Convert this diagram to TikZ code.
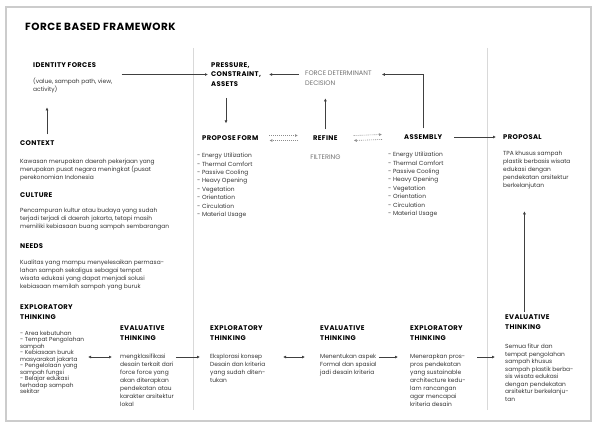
\documentclass[tikz,border=0pt]{standalone}
\usepackage{fontspec}
\setmainfont{Poppins}
\newfontfamily\headfont[LetterSpace=5]{Poppins}
\usetikzlibrary{arrows.meta}
\begin{document}
\begin{tikzpicture}[x=1pt,y=-1pt,
    head/.style={font=\headfont\fontsize{6.8}{9.8}\selectfont\bfseries,align=left,inner sep=0pt,anchor=west},
    body/.style={font=\fontsize{5.9}{8}\selectfont,align=left,inner sep=0pt,anchor=north west,text=black!80},
    tight/.style={body,font=\fontsize{5.8}{6.5}\selectfont},
    items/.style={body,font=\fontsize{5.9}{8.4}\selectfont},
    lite/.style={font=\fontsize{6.6}{9.5}\selectfont,align=left,inner sep=0pt,text=black!55},
    link/.style={draw=black!75,line width=0.6pt,-{Latex[length=3pt,width=3pt]}},
    dlink/.style={link,draw=black!45,dash pattern=on 1pt off 1pt},
    divider/.style={draw=black!15,line width=1pt}]
  \useasboundingbox (0,0) rectangle (596,428);
  \draw[black!20,line width=1.8pt] (6,7) rectangle (591,421);
  \node[anchor=west,inner sep=0pt,font=\headfont\fontsize{10.4}{12}\selectfont\bfseries] (title) at (25,27) {FORCE BASED FRAMEWORK};
  \draw[divider] (193,48) -- (193,410);
  \draw[divider] (487,48) -- (487,410);
  % left column
  \node[head] (idf) at (33,65) {IDENTITY FORCES};
  \node[body] (idft) at (33,78) {(value, sampah path, view,\\activity)};
  \node[head] (ctx) at (20,143) {CONTEXT};
  \node[body] (ctxt) at (20,159) {Kawasan merupakan daerah pekerjaan yang\\merupakan pusat negara meningkat (pusat\\perekonomian Indonesia};
  \node[head] (cul) at (20,195) {CULTURE};
  \node[body] (cult) at (20,208) {Pencampuran kultur atau budaya yang sudah\\terjadi terjadi di daerah jakarta, tetapi masih\\memiliki kebiasaan buang sampah sembarangan};
  \node[head] (nee) at (20,246) {NEEDS};
  \node[body] (neet) at (20,260) {Kualitas yang mampu menyelesaikan permasa-\\lahan sampah sekaligus sebagai tempat\\wisata edukasi yang dapat menjadi solusi\\kebiasaan memilah sampah yang buruk};
  \node[head] (ex1) at (20,312) {EXPLORATORY\\THINKING};
  \node[tight] (ex1t) at (20,331) {- Area kebutuhan\\- Tempat Pengolahan\\sampah\\- Kebiasaan buruk\\masyarakat jakarta\\- Pengelolaan yang\\sampah fungsi\\- Belajar edukasi\\terhadap sampah\\sekitar};
  \node[head] (ev1) at (120,333) {EVALUATIVE\\THINKING};
  \node[body] (ev1t) at (120,354) {mengklasifikasi\\desain terkait dari\\force force yang\\akan diterapkan\\pendekatan atau\\karakter arsitektur\\lokal};
  % middle column
  \node[head] (pca) at (211,74.5) {PRESSURE,\\CONSTRAINT,\\ASSETS};
  \node[lite,anchor=west] (fdd) at (305,78) {FORCE DETERMINANT\\DECISION};
  \node[head] (pf) at (202,138) {PROPOSE FORM};
  \node[items] (pft) at (197,153) {- Energy Utilization\\- Thermal Comfort\\- Passive Cooling\\- Heavy Opening\\- Vegetation\\- Orientation\\- Circulation\\- Material Usage};
  \node[head] (rf) at (313,138) {REFINE};
  \node[lite] (rft) at (rf.south |- 0,157) {FILTERING};
  \node[head] (as) at (404,137) {ASSEMBLY};
  \node[items] (ast) at (388,152) {- Energy Utilization\\- Thermal Comfort\\- Passive Cooling\\- Heavy Opening\\- Vegetation\\- Orientation\\- Circulation\\- Material Usage};
  \node[head] (ex2) at (210,333) {EXPLORATORY\\THINKING};
  \node[body] (ex2t) at (210,354) {Eksplorasi konsep\\Desain dan kriteria\\yang sudah diten-\\tukan};
  \node[head] (ev2) at (320,333) {EVALUATIVE\\THINKING};
  \node[body] (ev2t) at (320,354) {Menentukan aspek\\Formal dan spasial\\jadi desain kriteria};
  \node[head] (ex3) at (410,333) {EXPLORATORY\\THINKING};
  \node[body] (ex3t) at (410,354) {Menerapkan pros-\\pros pendekatan\\yang sustainable\\architecture kedu-\\lam rancangan\\agar mencapai\\kriteria desain};
  % right column
  \node[head] (prop) at (503,137) {PROPOSAL};
  \node[body] (propt) at (503,151) {TPA khusus sampah\\plastik berbasis wisata\\edukasi dengan\\pendekatan arsitektur\\berkelanjutan};
  \node[head] (ev4) at (505,322) {EVALUATIVE\\THINKING};
  \node[body,font=\fontsize{5.9}{7.5}\selectfont] (ev4t) at (505,344) {Semua fitur dan\\tempat pengolahan\\sampah khusus\\sampah plastik berba-\\sis wisata edukasi\\dengan pendekatan\\arsitektur berkelanju-\\tan};
  % connectors
  \draw[link] ([xshift=9pt]idft.east |- pca.west) -- ([xshift=-3pt]pca.west);
  \draw[link] ([yshift=6pt]ctx.north -| idf.west) ++(14,0) -- ([xshift=14pt,yshift=-14pt]idft.south west);
  \draw[link] ([xshift=-6pt]fdd.west |- pca.east) -- ([xshift=8pt]pca.east);
  \draw[link] ([yshift=6pt]as.north) |- ([xshift=10pt]fdd.east |- pca.east);
  \draw[link] ([xshift=15pt,yshift=-11pt]pca.south west) -- ([xshift=15pt,yshift=12pt]pca.south west |- pf.north);
  \draw[link] ([yshift=6pt]rf.north) -- ([yshift=-13pt]rf.north |- fdd.south);
  \draw[dlink] ([xshift=11pt,yshift=2.5pt]pf.east) -- ([xshift=-15pt,yshift=2.5pt]rf.west);
  \draw[dlink] ([xshift=-15pt,yshift=-2.5pt]rf.west) -- ([xshift=11pt,yshift=-2.5pt]pf.east);
  \draw[dlink] ([xshift=16pt,yshift=2.5pt]rf.east) -- ([xshift=-22pt,yshift=2.5pt]as.west);
  \draw[dlink] ([xshift=-22pt,yshift=-2.5pt]as.west) -- ([xshift=16pt,yshift=-2.5pt]rf.east);
  \draw[link] ([xshift=12pt]as.east) -- ([xshift=-7pt]prop.west);
  \draw[link] ([xshift=-3pt,yshift=3pt]ev4.north) -- ([xshift=-3pt,yshift=-22pt]ev4.north |- propt.south);
  \draw[link,{Latex[length=3pt,width=3pt]}-{Latex[length=3pt,width=3pt]}] ([xshift=-32pt,yshift=-3pt]ev1t.north west) -- ([xshift=-8pt,yshift=-3pt]ev1t.north west);
  \draw[link] ([xshift=2pt,yshift=-3pt]ev1t.north east) -- ([xshift=-10pt,yshift=-3pt]ex2t.north west);
  \draw[link,{Latex[length=3pt,width=3pt]}-{Latex[length=3pt,width=3pt]}] ([xshift=-37pt,yshift=-3pt]ev2t.north west) -- ([xshift=-15pt,yshift=-3pt]ev2t.north west);
  \draw[link] ([xshift=2pt,yshift=-3pt]ev2t.north east) -- ([xshift=-12pt,yshift=-3pt]ex3t.north west);
  \draw[link] ([xshift=-28pt,yshift=-13pt]ev4t.north west) -- ([xshift=-10pt,yshift=-13pt]ev4t.north west);
\end{tikzpicture}
\end{document}
